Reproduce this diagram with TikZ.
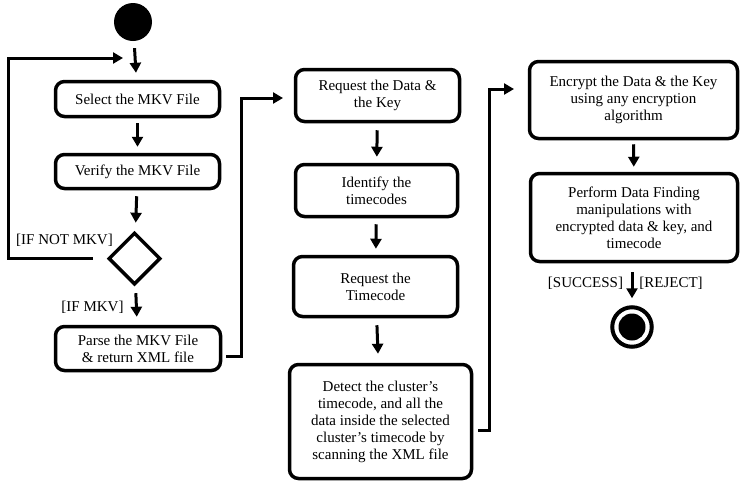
\documentclass[tikz,border=0pt]{standalone}
\usepackage{fontspec}
\setmainfont{Liberation Serif}
\usetikzlibrary{shapes.geometric,arrows.meta,calc}
\begin{document}
\begin{tikzpicture}[x=1pt,y=-1pt,
  act/.style={draw,line width=3.5pt,rounded corners=9pt,align=center,inner sep=2pt,
    font=\fontsize{15}{17}\selectfont},
  arr/.style={line width=3pt,-{Triangle[length=10pt,width=11pt]}},
  lbl/.style={font=\fontsize{15}{17}\selectfont,inner sep=0pt},
  ln/.style={line width=3pt}]
\useasboundingbox (0,0) rectangle (742,488);
% start
\node[circle,fill=black,minimum size=38pt,inner sep=0pt] (start) at (133,22) {};
% left column
\node[act,minimum width=164pt,minimum height=35pt] (select) at (137.5,99) {Select the MKV File};
\node[act,minimum width=164pt,minimum height=34pt] (verify) at (137.5,171.5) {Verify the MKV File};
\node[diamond,draw,line width=3.5pt,minimum width=52pt,minimum height=52pt,inner sep=0pt] (dec) at (134.5,258.5) {};
\node[act,minimum width=165pt,minimum height=44pt] (parse) at (138,348.5) {Parse the MKV File\\\& return XML file};
% middle column
\node[act,minimum width=164pt,minimum height=52pt] (reqdata) at (377.5,95.5) {Request the Data \&\\the Key};
\node[act,minimum width=162pt,minimum height=52pt] (ident) at (376.5,190.5) {Identify the\\timecodes};
\node[act,minimum width=164pt,minimum height=60pt] (reqtc) at (375.5,286.5) {Request the\\Timecode};
\node[act,minimum width=182pt,minimum height=114pt] (detect) at (380.5,421.5) {Detect the cluster’s\\timecode, and all the\\data inside the selected\\cluster’s timecode by\\scanning the XML file};
% right column
\node[act,minimum width=208pt,minimum height=77pt] (encrypt) at (633.5,100) {Encrypt the Data \& the Key\\using any encryption\\algorithm};
\node[act,minimum width=207pt,minimum height=88pt] (perform) at (634,217.5) {Perform Data Finding\\manipulations with\\encrypted data \& key, and\\timecode};
% end
\node[circle,draw,line width=4pt,minimum size=39.5pt,inner sep=0pt] (finish) at (632,327) {};
\fill (finish.center) circle (13.5pt);
% labels
\node[lbl] (lnot) at (64.5,240) {[IF NOT MKV]};
\node[lbl] (lmkv) at (92.5,307) {[IF MKV]};
\node[lbl] (lsucc) at (585.5,283) {[SUCCESS]};
\node[lbl] (lrej) at (671,283) {[REJECT]};
% bend coordinates
\coordinate (loopA) at (8,58);
\coordinate (loopB) at (123,58);
\coordinate (pA) at (241,98);
\coordinate (pB) at (283,98);
\coordinate (dA) at (489,89);
\coordinate (dB) at (514,89);
% connectors
\draw[arr,shorten <=7pt,shorten >=7pt] (start) -- (select);
\draw[arr,shorten <=5pt,shorten >=6pt] (select) -- (verify);
\draw[arr,shorten <=6pt,shorten >=9pt] (verify) -- (dec);
\draw[arr,shorten <=8pt,shorten >=8pt] (dec) -- (parse);
\draw[arr,shorten <=14pt] (dec.west) -| (loopA) -- (loopB);
\draw[arr,shorten <=4pt] ($(parse.east)+(0,7.5)$) -| (pA) -- (pB);
\draw[arr,shorten <=7pt,shorten >=6pt] (reqdata) -- (ident);
\draw[arr,shorten <=6pt,shorten >=6pt] (ident) -- (reqtc);
\draw[arr,shorten <=7pt,shorten >=9pt] (reqtc) -- (detect);
\draw[arr,shorten <=5pt] ($(detect.east)+(0,8.5)$) -| (dA) -- (dB);
\draw[arr,shorten <=4pt,shorten >=5pt] (encrypt) -- (perform);
\draw[arr,shorten <=9pt,shorten >=7pt] (perform.south -| finish) -- (finish);
\end{tikzpicture}
\end{document}
